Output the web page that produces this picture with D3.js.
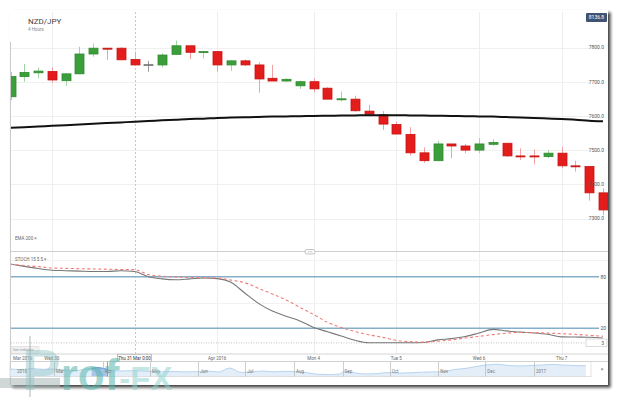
<!DOCTYPE html>
<html>
<head>
<meta charset="utf-8">
<script src="https://cdn.jsdelivr.net/npm/d3@7"></script>
<style>
  body { margin: 0; background: #fff; }
  svg { display: block; font-family: Roboto, "Open Sans", sans-serif; }
</style>
</head>
<body>
<div id="wrapper"></div>
<script>
// 1. Data

const opens  = [7656,7715,7726,7730,7703,7723,7781,7798,7798,7765,7750,7749,7780,7805,7785,7788,7749,7761,7749,7710,7702,7688,
                7700,7681,7649,7649,7614,7603,7575,7546,7492,7469,7518,7512,7500,7517,7520,7483,7483,7481,7491,7454,7452,7375];
const highs  = [7728,7752,7742,7742,7724,7802,7812,7799,7801,7788,7761,7783,7820,7806,7788,7789,7762,7765,7757,7749,7710,7703,
                7710,7684,7671,7659,7632,7614,7583,7567,7508,7527,7518,7518,7535,7532,7520,7505,7502,7500,7510,7469,7452,7388];
const lows   = [7646,7700,7710,7697,7688,7722,7773,7763,7763,7748,7729,7742,7779,7766,7768,7729,7732,7746,7668,7702,7699,7679,
                7669,7649,7642,7612,7600,7559,7547,7484,7463,7469,7476,7491,7491,7513,7480,7471,7458,7477,7447,7437,7352,7310];
const closes = [7715,7727,7731,7705,7723,7781,7798,7796,7764,7749,7750,7778,7805,7786,7788,7749,7761,7749,7708,7702,7707,7700,
                7679,7649,7650,7615,7605,7576,7547,7492,7469,7518,7512,7500,7518,7522,7483,7481,7481,7491,7454,7452,7375,7325];

const ema200 = [7565,7567,7569,7571,7573,7575,7577,7579,7581,7583,7585,7587,7589,7591,7592,7594,7595,7596,7597,7598,7598.5,7599,
                7600,7600.5,7601,7601.5,7602,7602,7602,7601.5,7601,7600.5,7600,7599,7598.5,7598,7596.5,7595,7594,7592.5,7591,7589,7586,7584];

const stochK = [94.5,92,89.5,87.5,87,86.5,86,86,87,86,80,77.5,76.5,77.5,78.5,77.8,73.5,61,49,40,34,28.6,
                21,16,11,6,3.2,3.2,3.2,3.2,3.5,6.5,8,10.4,14.5,18.8,17,15.5,14.6,13,10,9.8,9.6,8.8];
const stochD = [94.5,93,91.8,90.2,89.7,89.3,89,88.7,88.4,88.2,82.5,80.6,79.6,79.2,78.8,78.5,76,73,66.5,60,53,44.4,
                36,27,21,16.3,12.5,9.5,6,4.5,3.9,5,6.5,8.7,10.6,12.6,14.3,15.2,15,14.4,13.8,13,11.8,10.8];

const priceTicks = [7300, 7400, 7500, 7600, 7700, 7800];
const stochLevels = [20, 80];
const stochGrid = [50, 100];
const stochLast = 3;
const lastPriceLabel = "8136.8";

const dayLabels = ["Mar 2016", "Wed 30", "Thu 31 Mar 0:00", "Apr 2016", "Mon 4", "Tue 5", "Wed 6", "Thu 7"];
const dayLabelIndex = [0, 3, 9, 15, 22, 28, 34, 40];
const dayGridIndex = [3, 15, 22, 28, 34, 40];
const cursorIndex = 9;

const navDates = ["2016-02-02","2016-02-09","2016-02-16","2016-02-23","2016-03-01","2016-03-08","2016-03-15","2016-03-22",
  "2016-03-29","2016-04-05","2016-04-12","2016-04-19","2016-04-26","2016-05-03","2016-05-10","2016-05-17","2016-05-24",
  "2016-05-31","2016-06-07","2016-06-14","2016-06-21","2016-06-28","2016-07-05","2016-07-12","2016-07-19","2016-07-26",
  "2016-08-02","2016-08-09","2016-08-16","2016-08-23","2016-08-30","2016-09-02","2016-09-09","2016-09-16","2016-09-23",
  "2016-09-30","2016-10-07","2016-10-14","2016-10-21","2016-10-28","2016-11-04","2016-11-11","2016-11-18","2016-11-25",
  "2016-12-02","2016-12-09","2016-12-16","2016-12-23","2016-12-30","2017-01-06","2017-01-13","2017-01-20","2017-01-27","2017-02-03"];
const navValues = [76.3,75.5,76.8,75.9,76.2,75.0,74.2,76.4,78.0,74.8,73.6,74.1,73.4,72.9,72.5,73.0,72.4,
  72.8,73.5,72.3,77.6,71.8,72.4,73.6,72.6,73.2,72.8,71.5,69.2,68.8,69.5,73.4,71.0,69.6,70.2,
  71.6,70.8,71.2,72.0,72.4,72.6,75.5,77.0,79.5,81.8,82.6,80.8,80.4,80.9,81.5,82.4,81.4,80.9,80.6];
const navLabels = ["2016","Mar","Apr","May","Jun","Jul","Aug","Sep","Oct","Nov","Dec","2017"];
const navWindow = ["2016-03-25", "2016-04-04"];

// 2. Dimensions

const width = 621, height = 397;
const dims = {
  left: 11, right: 608,
  priceTop: 12, priceBottom: 251.5,
  stochBottom: 354, axisBottom: 361.5,
  navLeft: 10, navRight: 591, navTop: 361.7, navBottom: 376.7,
};

// 3. Canvas

const svg = d3.select("#wrapper").append("svg")
  .attr("width", width).attr("height", height);

const defs = svg.append("defs");
defs.append("filter").attr("id", "shadow")
  .attr("x", "-5%").attr("y", "-5%").attr("width", "110%").attr("height", "112%")
  .append("feDropShadow")
  .attr("dx", 2.5).attr("dy", 2.5).attr("stdDeviation", 1.8)
  .attr("flood-color", "#111").attr("flood-opacity", 0.8);
defs.append("clipPath").attr("id", "clipPrice").append("rect")
  .attr("x", dims.left).attr("y", dims.priceTop)
  .attr("width", dims.right - dims.left).attr("height", dims.priceBottom - dims.priceTop);
defs.append("clipPath").attr("id", "clipStoch").append("rect")
  .attr("x", dims.left).attr("y", dims.priceBottom)
  .attr("width", dims.right - dims.left).attr("height", dims.stochBottom - dims.priceBottom);
defs.append("clipPath").attr("id", "clipNav").append("rect")
  .attr("x", dims.navLeft).attr("y", dims.navTop)
  .attr("width", dims.navRight - dims.navLeft).attr("height", dims.navBottom - dims.navTop);

svg.append("rect")
  .attr("x", 10).attr("y", 10).attr("width", 598).attr("height", 375)
  .attr("fill", "#fff").attr("filter", "url(#shadow)");
svg.append("line")
  .attr("x1", 10.5).attr("x2", 10.5).attr("y1", 42).attr("y2", 385)
  .attr("stroke", "#ccc");

// 4. Scales

const xScale = d3.scaleLinear().domain([0, opens.length - 1]).range([10.5, 603]);
const yScale = d3.scaleLinear().domain([7300, 7800]).range([218.5, 47.5]);
const sScale = d3.scaleLinear().domain([0, 100]).range([345.5, 259.5]);

// 5. Grid

const grid = svg.append("g");
grid.selectAll(".hgrid").data(priceTicks).join("line")
  .attr("x1", dims.left).attr("x2", 590)
  .attr("y1", d => Math.round(yScale(d)) + 0.5).attr("y2", d => Math.round(yScale(d)) + 0.5)
  .attr("stroke", "#f0f0f0");
grid.selectAll(".vgrid").data(dayGridIndex).join("line")
  .attr("x1", d => Math.round(xScale(d)) + 0.5).attr("x2", d => Math.round(xScale(d)) + 0.5)
  .attr("y1", dims.priceTop).attr("y2", dims.stochBottom)
  .attr("stroke", "#eeeeee");
grid.selectAll(".sgrid").data(stochGrid).join("line")
  .attr("x1", dims.left).attr("x2", dims.right)
  .attr("y1", d => Math.round(sScale(d)) + 0.5).attr("y2", d => Math.round(sScale(d)) + 0.5)
  .attr("stroke", "#f2f2f2");

// cursor
svg.append("line")
  .attr("x1", Math.round(xScale(cursorIndex)) + 0.5).attr("x2", Math.round(xScale(cursorIndex)) + 0.5)
  .attr("y1", dims.priceTop).attr("y2", dims.stochBottom)
  .attr("stroke", "#c8c8c8").attr("stroke-dasharray", "2,2");

// 6. Candles

const candles = d3.range(opens.length).map(i => ({ i, o: opens[i], h: highs[i], l: lows[i], c: closes[i] }));
const kind = d => d.c > d.o ? "up" : d.c < d.o ? "down" : "flat";
const bodyFill = { up: "#3b9e3b", down: "#e31c1c", flat: "#8a8a8a" };
const bodyStroke = { up: "#2f8a2f", down: "#c91414", flat: "#7a7a7a" };
const wickColor = { up: "#a3d4a3", down: "#f2a2a2", flat: "#9a9a9a" };

const priceG = svg.append("g").attr("clip-path", "url(#clipPrice)");

priceG.selectAll(".wick").data(candles).join("line")
  .attr("x1", d => Math.round(xScale(d.i)) + 0.5).attr("x2", d => Math.round(xScale(d.i)) + 0.5)
  .attr("y1", d => yScale(d.h)).attr("y2", d => yScale(d.l))
  .attr("stroke", d => wickColor[kind(d)]).attr("stroke-width", 1);

priceG.selectAll(".body").data(candles).join("rect")
  .attr("x", d => Math.round(xScale(d.i)) - 4)
  .attr("width", 9)
  .attr("y", d => yScale(Math.max(d.o, d.c)))
  .attr("height", d => Math.max(1, Math.abs(yScale(d.o) - yScale(d.c))))
  .attr("fill", d => bodyFill[kind(d)])
  .attr("stroke", d => bodyStroke[kind(d)]).attr("stroke-width", 0.8);

// EMA 200
priceG.append("path")
  .datum(ema200)
  .attr("fill", "none").attr("stroke", "#111").attr("stroke-width", 2)
  .attr("d", d3.line().x((d, i) => xScale(i)).y(d => yScale(d)).curve(d3.curveMonotoneX));

// price axis labels
svg.append("g").selectAll("text").data(priceTicks).join("text")
  .attr("x", 604).attr("y", d => yScale(d) + 1.8)
  .attr("text-anchor", "end").attr("font-size", 5).attr("fill", "#555")
  .text(d3.format(".1f"));

// titles
svg.append("text").attr("x", 28).attr("y", 24).attr("font-size", 8).attr("fill", "#444").text("NZD/JPY");
svg.append("text").attr("x", 28).attr("y", 31).attr("font-size", 4.5).attr("fill", "#888").text("4 Hours");

const lastBox = svg.append("g");
lastBox.append("rect").attr("x", 586).attr("y", 13).attr("width", 21).attr("height", 9)
  .attr("rx", 1).attr("fill", "#3f5373");
lastBox.append("text").attr("x", 596.5).attr("y", 19.3).attr("text-anchor", "middle")
  .attr("font-size", 5).attr("fill", "#fff").text(lastPriceLabel);

svg.append("text").attr("x", 15).attr("y", 240).attr("font-size", 4.5).attr("fill", "#666").text("EMA  200  \u00d7");

// 7. Stochastic panel

svg.append("line").attr("x1", dims.left).attr("x2", dims.right)
  .attr("y1", dims.priceBottom).attr("y2", dims.priceBottom).attr("stroke", "#cfcfcf");
const pill = svg.append("g");
pill.append("rect").attr("x", 305).attr("y", 249.5).attr("width", 10).attr("height", 4.5).attr("rx", 2)
  .attr("fill", "#fff").attr("stroke", "#aaa").attr("stroke-width", 0.7);
pill.append("line").attr("x1", 307.5).attr("x2", 312.5).attr("y1", 251.8).attr("y2", 251.8)
  .attr("stroke", "#aaa").attr("stroke-width", 0.6);

svg.append("text").attr("x", 15).attr("y", 260.5).attr("font-size", 4.5).attr("fill", "#666").text("STOCH  15  5  5  \u00d7");

const stochG = svg.append("g").attr("clip-path", "url(#clipStoch)");
stochG.selectAll(".level").data(stochLevels).join("line")
  .attr("x1", dims.left).attr("x2", 599)
  .attr("y1", d => sScale(d)).attr("y2", d => sScale(d))
  .attr("stroke", "#86aec8").attr("stroke-width", 1.4);
stochG.append("line")
  .attr("x1", dims.left).attr("x2", 586)
  .attr("y1", sScale(stochLast)).attr("y2", sScale(stochLast))
  .attr("stroke", "#aaa").attr("stroke-width", 0.7).attr("stroke-dasharray", "1,1.5");

const sLine = d3.line().x((d, i) => xScale(i)).y(d => sScale(d)).curve(d3.curveMonotoneX);
stochG.append("path").datum(stochK)
  .attr("fill", "none").attr("stroke", "#777").attr("stroke-width", 1.1).attr("d", sLine);
stochG.append("path").datum(stochD)
  .attr("fill", "none").attr("stroke", "#f07a7a").attr("stroke-width", 1.1)
  .attr("stroke-dasharray", "3,2.5").attr("d", sLine);

svg.append("g").selectAll("text").data(stochLevels).join("text")
  .attr("x", 606).attr("y", d => sScale(d) + 1.8)
  .attr("text-anchor", "end").attr("font-size", 5).attr("fill", "#555").text(d => d);

const valBox = svg.append("g");
valBox.append("rect").attr("x", 586).attr("y", 339).attr("width", 21).attr("height", 7.5)
  .attr("fill", "#fff").attr("stroke", "#ccc").attr("stroke-width", 0.7);
valBox.append("text").attr("x", 604).attr("y", 344.6).attr("text-anchor", "end")
  .attr("font-size", 5).attr("fill", "#555").text(stochLast);

const seeBox = svg.append("g");
seeBox.append("rect").attr("x", 11).attr("y", 346.7).attr("width", 28).attr("height", 6.6)
  .attr("fill", "#f1f1f1").attr("stroke", "#d5d5d5").attr("stroke-width", 0.6);
seeBox.append("text").attr("x", 13).attr("y", 351.3).attr("font-size", 3.6).attr("fill", "#999").text("See indicator");

// 8. Time axis

svg.append("line").attr("x1", dims.left).attr("x2", dims.right)
  .attr("y1", dims.stochBottom).attr("y2", dims.stochBottom).attr("stroke", "#d5d5d5");
svg.append("line").attr("x1", dims.left).attr("x2", dims.right)
  .attr("y1", dims.axisBottom).attr("y2", dims.axisBottom).attr("stroke", "#d5d5d5");

const axisG = svg.append("g");
dayLabels.forEach((label, k) => {
  const idx = dayLabelIndex[k];
  if (idx === cursorIndex) {
    axisG.append("rect").attr("x", xScale(idx) - 17).attr("y", 354.2).attr("width", 34).attr("height", 7)
      .attr("fill", "#fff").attr("stroke", "#999").attr("stroke-width", 0.6);
  }
  axisG.append("text")
    .attr("x", k === 0 ? 13 : xScale(idx)).attr("y", 359.6)
    .attr("text-anchor", k === 0 ? "start" : "middle")
    .attr("font-size", 4.5).attr("fill", idx === cursorIndex ? "#333" : "#666")
    .text(label);
});

// 9. Navigator

const parse = d3.utcParse("%Y-%m-%d");
const navData = navDates.map((d, i) => ({ date: parse(d), v: navValues[i] }));
const navX = d3.scaleUtc().domain([parse("2016-02-01"), parse("2017-01-01")]).range([8.5, 534]);
const navY = d3.scaleLinear().domain([66, 86]).range([dims.navBottom, dims.navTop]);
const navArea = d3.area().x(d => navX(d.date)).y0(dims.navBottom).y1(d => navY(d.v)).curve(d3.curveMonotoneX);
const navLine = navArea.lineY1();

const navG = svg.append("g").attr("clip-path", "url(#clipNav)");
navG.append("path").datum(navData).attr("fill", "#e3eef9").attr("d", navArea);
navG.append("path").datum(navData).attr("fill", "none").attr("stroke", "#a9cbea").attr("stroke-width", 0.8).attr("d", navLine);

const w0 = parse(navWindow[0]), w1 = parse(navWindow[1]);
const winData = navData.filter(d => d.date >= d3.utcDay.offset(w0, -7) && d.date <= d3.utcDay.offset(w1, 7));
const winG = navG.append("g");
defs.append("clipPath").attr("id", "clipWin").append("rect")
  .attr("x", navX(w0)).attr("y", dims.navTop).attr("width", navX(w1) - navX(w0)).attr("height", dims.navBottom - dims.navTop);
winG.attr("clip-path", "url(#clipWin)");
winG.append("path").datum(winData).attr("fill", "#a8c6ea").attr("d", navArea);
winG.append("path").datum(winData).attr("fill", "none").attr("stroke", "#4f86c6").attr("stroke-width", 0.9).attr("d", navLine);

const months = d3.utcMonth.range(parse("2016-02-01"), parse("2017-01-02"));
const navAxis = svg.append("g");
navAxis.selectAll("line").data(months.slice(1)).join("line")
  .attr("x1", d => Math.round(navX(d)) + 0.5).attr("x2", d => Math.round(navX(d)) + 0.5)
  .attr("y1", dims.navTop).attr("y2", dims.navBottom)
  .attr("stroke", "#b8b8b8").attr("stroke-width", 0.7);
navAxis.selectAll("text").data(months).join("text")
  .attr("x", (d, i) => Math.max(navX(d) + 2, 17)).attr("y", 373)
  .attr("font-size", 4.5).attr("fill", "#777")
  .text((d, i) => navLabels[i]);

svg.append("rect").attr("x", dims.navLeft).attr("y", dims.navTop)
  .attr("width", dims.navRight - dims.navLeft).attr("height", dims.navBottom - dims.navTop)
  .attr("fill", "none").attr("stroke", "#cfcfcf").attr("stroke-width", 0.6);
svg.append("line").attr("x1", Math.round(navX(w1)) + 0.5).attr("x2", Math.round(navX(w1)) + 0.5)
  .attr("y1", dims.navTop).attr("y2", dims.navBottom).attr("stroke", "#888").attr("stroke-width", 0.8);
svg.append("text").attr("x", 602).attr("y", 370.5).attr("text-anchor", "middle")
  .attr("font-size", 5).attr("fill", "#666").text("\u00d7");

// 10. Watermark

const mark = svg.append("g");
mark.append("rect").attr("x", 0).attr("y", 378).attr("width", 60).attr("height", 10)
  .attr("fill", "#a9b6b6").attr("opacity", 0.55);
mark.append("line").attr("x1", 30).attr("x2", 30).attr("y1", 336).attr("y2", 397)
  .attr("stroke", "#9aa6a6").attr("stroke-width", 1.2).attr("opacity", 0.7);
const markText = mark.append("text").attr("x", 22).attr("y", 390)
  .attr("font-family", "'Liberation Sans', Arial, sans-serif").attr("font-weight", "bold");
markText.append("tspan").attr("font-size", 58).attr("fill", "#8fc4c4").attr("fill-opacity", 0.45).text("P");
markText.append("tspan").attr("font-size", 44).attr("fill", "#55b3aa").attr("fill-opacity", 0.55).text("rof");
markText.append("tspan").attr("font-size", 33).attr("fill", "#8fd3cd").attr("fill-opacity", 0.55).text("-FX");
</script>
</body>
</html>
